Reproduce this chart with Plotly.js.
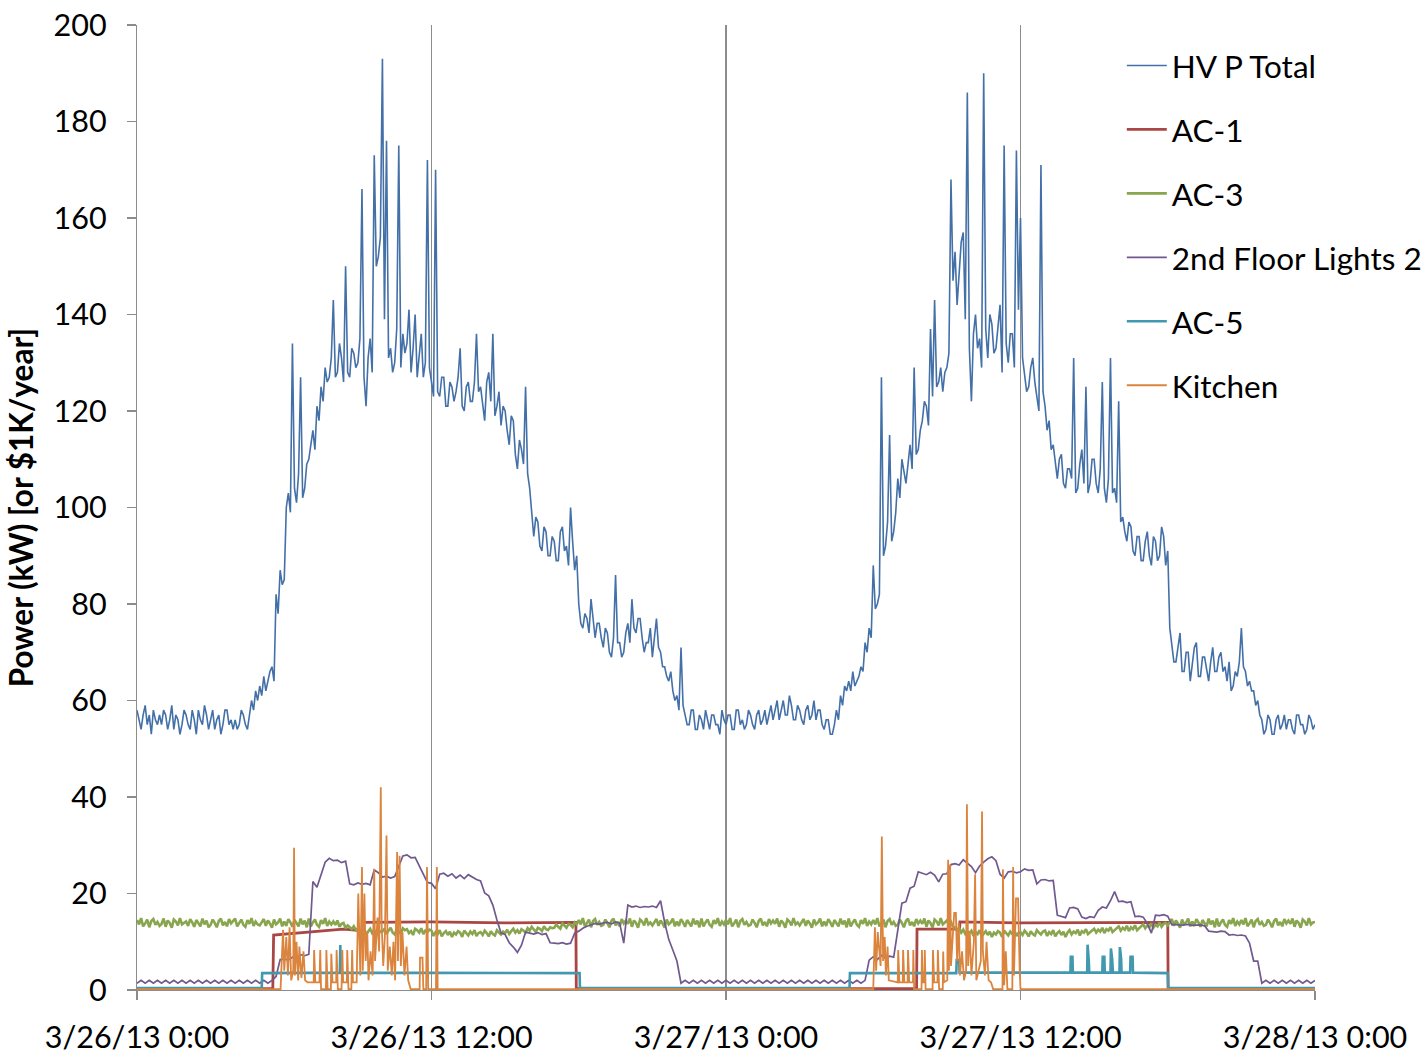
<!DOCTYPE html>
<html>
<head>
<meta charset="utf-8">
<script src="https://cdn.plot.ly/plotly-3.0.1.min.js"></script>
<style>html,body{margin:0;padding:0;background:#fff;}#chart{width:1428px;height:1055px;}</style>
</head>
<body>
<div id="chart"></div>
<script>
// ---------------- DATA ----------------
// 5-minute grid (hours) for HV P Total and AC-3
const fineStepHour = 1/12;
// 10-minute grid (hours) for 2nd Floor Lights 2
const gridStepHour = 1/6;

// HV P Total (kW), 5-minute readings, 3/26 0:00 .. 3/28 0:00 (one row per hour)
const hvTotal = [
 58,56,54,57,59,55,57,53,58,56,55,57,
 55,58,57,54,56,59,54,57,56,53,55,58,
 57,55,54,58,56,53,58,56,55,59,57,54,
 56,58,54,56,57,53,55,58,58,55,56,54,
 56,54,55,58,57,55,54,57,60,58,62,60,
 63,61,65,62,64,66,67,64,82,78,87,84,
 85,100,103,99,134,104,101,107,127,102,104,109,
 110,113,116,112,121,118,125,122,129,126,127,131,
 143,127,128,134,131,126,150,128,127,133,132,129,
 130,135,166,127,121,131,135,128,173,150,152,156,
 193,139,176,131,133,128,130,137,175,129,136,132,
 134,141,128,133,140,127,131,136,127,130,172,129,
 126,123,170,124,123,127,127,121,121,126,125,122,
 124,127,133,121,120,125,126,122,122,126,136,124,
 125,121,118,126,128,122,136,119,121,124,117,121,
 120,116,113,119,118,111,108,114,112,109,125,107,
 104,99,94,98,97,92,91,96,95,90,90,94,
 93,89,89,95,96,91,92,88,100,93,87,90,
 80,76,75,78,77,74,81,77,73,76,76,73,
 71,75,74,70,69,73,86,72,72,69,70,74,
 76,72,81,75,74,77,77,73,70,72,72,75,
 69,73,77,71,70,67,67,65,64,66,62,60,
 61,58,71,59,57,55,55,58,58,54,54,57,
 56,54,58,56,54,57,57,55,55,53,58,56,
 55,57,57,54,54,58,58,55,56,54,55,58,
 57,55,54,57,58,55,56,58,55,57,59,56,
 58,60,56,58,60,57,57,61,59,56,56,59,
 58,56,55,58,59,56,57,60,56,58,58,55,
 54,56,56,53,53,55,58,56,61,59,63,62,
 64,62,66,63,64,65,67,66,72,70,75,73,
 88,79,80,82,127,90,92,97,115,93,95,99,
 106,102,110,107,105,109,113,108,129,111,112,116,
 118,122,121,117,137,123,143,125,126,129,124,128,
 129,132,168,147,153,142,148,155,157,139,186,133,
 122,136,140,133,135,129,190,137,131,140,138,132,
 133,137,142,128,175,134,130,136,136,129,174,141,
 160,131,128,124,125,129,131,126,123,120,171,124,
 121,116,118,112,113,109,106,110,111,105,104,108,
 108,106,131,103,104,109,112,105,125,103,105,110,
 110,105,103,108,126,104,101,106,131,103,104,101,
 122,97,98,95,93,97,96,91,90,94,94,89,
 89,93,95,90,88,94,93,89,90,96,94,88,
 91,75,72,68,68,71,74,66,66,70,70,64,
 67,71,72,65,65,69,69,66,64,68,71,66,
 66,69,70,66,67,64,68,62,63,66,65,68,
 75,67,66,63,64,62,62,59,60,57,56,53,
 54,57,56,53,53,56,57,54,55,57,54,56,
 56,54,53,57,57,55,55,53,54,57,56,54,
 55
];

// AC-3 (kW), 5-minute readings (one row per hour)
const ac3 = [
 14.5,13.6,14.9,13.2,13.8,14.6,13.0,14.3,14.7,13.5,14.1,13.3,
 13.7,14.8,13.1,14.4,13.9,12.9,14.6,14.2,13.4,14.9,13.6,14.0,
 14.2,13.3,14.7,14.0,13.1,14.5,13.8,13.2,14.8,13.6,14.4,13.0,
 13.5,14.6,13.9,13.0,14.3,14.8,13.4,14.1,13.2,14.7,13.8,14.4,
 14.8,13.2,14.0,14.6,13.5,13.1,14.5,13.7,14.9,13.3,14.2,13.6,
 13.4,14.1,14.7,13.3,14.4,13.8,12.9,14.6,13.6,14.0,14.8,13.2,
 14.2,13.3,14.7,14.0,13.1,14.5,13.8,13.2,14.8,13.6,14.4,13.0,
 14.8,13.2,14.0,14.6,13.5,13.1,14.5,13.7,14.9,13.3,14.2,13.6,
 14.2,13.5,14.4,13.1,13.7,13.9,12.8,13.4,13.0,12.6,13.2,12.4,
 12.8,11.7,12.5,12.9,11.5,12.2,12.7,11.8,12.4,11.4,12.6,12.0,
 12.1,12.7,11.6,12.3,12.9,11.9,11.5,12.6,12.2,11.7,12.8,12.4,
 12.6,11.8,12.2,11.4,12.7,12.4,11.9,12.8,11.6,12.3,12.0,12.5,
 12.3,11.2,12.0,11.6,12.4,11.1,11.8,12.2,11.4,12.1,11.0,11.9,
 11.5,12.2,11.9,11.0,12.3,11.7,11.3,12.1,11.6,12.4,11.2,11.8,
 12.0,11.4,12.3,11.8,11.1,12.2,11.6,11.3,12.4,11.9,11.5,12.1,
 11.8,12.5,11.6,12.2,12.7,11.9,12.4,11.7,12.6,12.3,11.9,12.8,
 12.3,13.1,12.5,12.0,12.9,12.7,12.2,13.2,12.6,12.4,13.0,12.8,
 12.9,13.6,13.1,12.7,13.8,13.3,12.9,13.7,13.5,13.0,14.0,13.6,
 14.5,13.6,14.9,13.2,13.8,14.6,13.0,14.3,14.7,13.5,14.1,13.3,
 13.5,14.6,13.9,13.0,14.3,14.8,13.4,14.1,13.2,14.7,13.8,14.4,
 13.7,14.8,13.1,14.4,13.9,12.9,14.6,14.2,13.4,14.9,13.6,14.0,
 13.4,14.1,14.7,13.3,14.4,13.8,12.9,14.6,13.6,14.0,14.8,13.2,
 14.2,13.3,14.7,14.0,13.1,14.5,13.8,13.2,14.8,13.6,14.4,13.0,
 14.8,13.2,14.0,14.6,13.5,13.1,14.5,13.7,14.9,13.3,14.2,13.6,
 14.5,13.6,14.9,13.2,13.8,14.6,13.0,14.3,14.7,13.5,14.1,13.3,
 13.5,14.6,13.9,13.0,14.3,14.8,13.4,14.1,13.2,14.7,13.8,14.4,
 13.7,14.8,13.1,14.4,13.9,12.9,14.6,14.2,13.4,14.9,13.6,14.0,
 13.4,14.1,14.7,13.3,14.4,13.8,12.9,14.6,13.6,14.0,14.8,13.2,
 14.2,13.3,14.7,14.0,13.1,14.5,13.8,13.2,14.8,13.6,14.4,13.0,
 14.8,13.2,14.0,14.6,13.5,13.1,14.5,13.7,14.9,13.3,14.2,13.6,
 14.5,13.6,14.9,13.2,13.8,14.6,13.0,14.3,14.7,13.5,14.1,13.3,
 13.5,14.6,13.9,13.0,14.3,14.8,13.4,14.1,13.2,14.7,13.8,14.4,
 13.7,14.8,13.1,14.4,13.9,12.9,14.6,14.2,13.4,14.9,13.6,14.0,
 14.4,13.5,14.1,13.2,12.9,12.3,12.8,11.9,12.5,11.6,12.2,11.8,
 12.3,11.2,12.0,11.6,12.4,11.1,11.8,12.2,11.4,12.1,11.0,11.9,
 11.5,12.2,11.9,11.0,12.3,11.7,11.3,12.1,11.6,12.4,11.2,11.8,
 12.0,11.4,12.3,11.8,11.1,12.2,11.6,11.3,12.4,11.9,11.5,12.1,
 12.3,11.2,12.0,11.6,12.4,11.1,11.8,12.2,11.4,12.1,11.0,11.9,
 12.4,11.5,12.1,11.8,12.5,11.3,12.2,11.9,12.6,11.6,12.0,12.3,
 12.7,11.9,12.5,12.1,12.9,11.8,12.6,12.3,13.0,12.0,12.4,12.8,
 13.2,12.3,12.9,12.5,13.3,12.2,13.0,12.6,13.4,12.4,12.8,13.1,
 13.6,12.8,13.4,13.0,13.8,12.9,13.5,13.2,14.0,13.1,13.7,13.9,
 13.4,14.1,14.7,13.3,14.4,13.8,12.9,14.6,13.6,14.0,14.8,13.2,
 14.2,13.3,14.7,14.0,13.1,14.5,13.8,13.2,14.8,13.6,14.4,13.0,
 14.8,13.2,14.0,14.6,13.5,13.1,14.5,13.7,14.9,13.3,14.2,13.6,
 14.5,13.6,14.9,13.2,13.8,14.6,13.0,14.3,14.7,13.5,14.1,13.3,
 13.5,14.6,13.9,13.0,14.3,14.8,13.4,14.1,13.2,14.7,13.8,14.4,
 13.7,14.8,13.1,14.4,13.9,12.9,14.6,14.2,13.4,14.9,13.6,14.0,
 14.1
];

// 2nd Floor Lights 2 (kW), 10-minute readings
const lights2 = [
 1.4,2.0,1.4,2.0,1.4,2.0, 1.4,2.0,1.4,2.0,1.4,2.0, 1.4,2.0,1.4,2.0,1.4,2.0, 1.4,2.0,1.4,2.0,1.4,2.0,
 1.4,2.0,1.4,2.0,1.4,2.0, 1.4,2.0,1.4,2.0,2.8,6.3, 6.4,6.2,6.8,6.5,7.3,7.1, 7.4,22.5,21.3,23.8,26.5,27.3,
 26.8,26.9,26.4,26.7,22.0,21.8, 22.2,21.9,22.1,21.8,24.9,24.3, 23.4,23.6,23.2,23.5,25.6,27.8, 28.0,27.4,27.5,25.6,24.0,22.3,
 22.1,21.0,24.0,24.2,23.6,24.1, 23.2,23.8,23.1,23.9,23.4,22.9, 22.6,20.1,19.5,17.6,14.5,11.8, 11.5,9.8,8.9,7.8,9.3,12.0,
 11.8,11.6,11.9,11.5,11.7,9.8, 9.7,9.6,9.8,9.5,9.7,11.8, 12.2,12.8,13.2,13.5,13.8,13.6, 13.9,14.0,13.7,14.1,13.9,9.7,
 17.6,17.2,17.4,17.1,17.3,17.2, 17.4,17.1,18.5,14.0,10.5,8.3, 6.0,1.4,2.0,1.4,2.0,1.4, 2.0,1.4,2.0,1.4,2.0,1.4,
 2.0,1.4,2.0,1.4,2.0,1.4, 2.0,1.4,2.0,1.4,2.0,1.4, 2.0,1.4,2.0,1.4,2.0,1.4, 2.0,1.4,2.0,1.4,2.0,1.4,
 2.0,1.4,2.0,1.4,2.0,1.4, 2.0,1.4,2.0,1.4,2.0,6.2, 6.9,6.3,7.2,6.6,7.0,6.8, 12.4,18.0,18.3,21.1,21.5,24.5,
 24.2,23.9,24.4,23.8,22.4,24.0, 24.1,26.0,26.2,25.9,27.0,26.3, 25.6,24.3,25.7,26.5,27.2,27.6, 26.8,24.0,23.2,24.5,24.6,24.3,
 24.5,25.1,24.8,24.9,22.0,22.8, 22.9,22.6,22.7,15.5,15.2,15.0, 17.0,17.1,16.8,15.1,14.8,15.2, 15.0,16.5,17.2,17.0,18.5,20.4,
 18.3,18.4,18.1,18.3,15.2,15.3, 15.1,13.8,11.8,15.5,15.4,15.6, 15.3,13.5,13.6,13.4,13.5,13.6, 13.4,13.5,13.5,13.3,12.2,12.1,
 12.0,12.2,12.1,11.4,11.5,11.3, 11.4,11.2,9.7,6.0,6.0,1.4, 2.0,1.4,2.0,1.4,2.0,1.4, 2.0,1.4,2.0,1.4,2.0,1.4,
 2.0
];

// AC-1 (kW): hour offsets and readings
const ac1Hours = [0, 5.54, 5.56, 6.5, 7.5, 8.4, 9.21, 9.23, 12, 15, 17.88, 17.90, 31.77, 31.79, 33.52, 33.54, 36, 39, 42.0, 42.02, 48];
const ac1KW    = [0.3, 0.3, 11.4, 11.8, 12.2, 12.6, 12.3, 14.0, 14.1, 13.9, 14.0, 0.3, 0.3, 12.6, 12.6, 14.1, 13.9, 14.0, 14.0, 0.3, 0.3];

// AC-5 (kW): hour offsets and readings
const ac5Hours = [0, 5.08, 5.10, 8.27, 8.29, 8.31, 18.03, 18.05, 29.03, 29.05, 33.38, 33.40, 33.50, 33.52,
  38.03, 38.05, 38.12, 38.14, 38.72, 38.74, 38.78, 38.80, 39.33, 39.35, 39.42, 39.44,
  39.66, 39.68, 39.74, 39.76, 40.03, 40.05, 40.10, 40.12, 40.47, 40.49, 40.56, 40.58, 42.0, 42.02, 48];
const ac5KW    = [0.4, 0.4, 3.5, 3.6, 9.3, 3.6, 3.5, 0.4, 0.4, 3.5, 3.5, 6.2, 6.2, 3.6,
  3.6, 6.9, 6.9, 3.6, 3.6, 9.4, 6.0, 3.6, 3.6, 6.9, 6.9, 3.6,
  3.6, 8.6, 6.5, 3.6, 3.6, 8.9, 6.5, 3.6, 3.6, 6.9, 6.9, 3.6, 3.5, 0.4, 0.4];

// Kitchen (kW): hour offsets and readings
const kitchenHours = [0, 5.85, 5.95, 6.00, 6.08, 6.15, 6.22, 6.28, 6.36, 6.40, 6.44, 6.50, 6.56, 6.62, 6.70, 6.78, 6.85, 6.95,
  7.20, 7.22, 7.26, 7.44, 7.46, 7.50, 7.70, 7.72, 7.76, 7.90, 7.92, 7.96, 8.12, 8.14, 8.18, 8.34, 8.36, 8.40,
  8.55, 8.57, 8.61, 8.74, 8.76, 8.80, 8.95, 8.97, 9.02, 9.10, 9.16, 9.20, 9.26, 9.32, 9.38, 9.44, 9.52, 9.60, 9.66, 9.70,
  9.80, 9.86, 9.93, 9.97, 10.03, 10.10, 10.17, 10.22, 10.30, 10.38, 10.45, 10.52, 10.60, 10.64, 10.70, 10.75, 10.82, 10.90,
  10.98, 11.05, 11.15, 11.52, 11.54, 11.64, 11.66, 11.79, 11.82, 11.86, 12.18, 12.21, 12.25,
  30.00, 30.06, 30.12, 30.18, 30.30, 30.35, 30.40, 30.46, 30.52, 30.58, 30.64, 30.95, 31.00, 31.02, 31.06, 31.20, 31.22, 31.26,
  31.40, 31.42, 31.46, 31.61, 31.63, 31.67, 31.96, 31.98, 32.02, 32.08, 32.10, 32.14, 32.42, 32.44, 32.48, 32.62, 32.64, 32.68,
  32.83, 32.85, 32.89, 33.02, 33.05, 33.09, 33.13, 33.17, 33.30, 33.36, 33.42, 33.48, 33.54, 33.62, 33.70, 33.78, 33.82, 33.86,
  33.94, 34.00, 34.10, 34.15, 34.20, 34.38, 34.43, 34.47, 34.55, 34.62, 34.70, 34.80, 34.88, 35.26, 35.29, 35.33, 35.40, 35.46,
  35.66, 35.70, 35.74, 35.82, 35.90, 35.96, 36.00, 48];
const kitchenKW = [0.2, 0.2, 12.5, 4, 11, 3, 13, 2, 4, 29.5, 3, 10, 2, 9, 2.5, 8, 2, 1.6,
  1.6, 8.3, 1.6, 1.6, 8.3, 0.2, 0.2, 8.3, 0.2, 0.2, 7.5, 1.6, 1.6, 8.3, 0.2, 0.2, 8.3, 1.6,
  1.6, 8.3, 0.2, 0.2, 8.3, 1.6, 1.6, 8.5, 20, 3, 25.5, 4, 20, 6, 12, 2, 8, 3, 25, 6,
  15, 8, 42, 14, 5, 11, 32, 4, 9, 3, 10, 2, 28.6, 6, 27.8, 5, 12, 3,
  9, 2, 0.2, 0.2, 6.7, 6.7, 0.2, 0.2, 25.5, 0.2, 0.2, 25.5, 0.2,
  0.2, 13, 4, 12, 5, 31.8, 6, 11, 3, 9, 2, 1.6, 1.6, 8.3, 1.6, 1.6, 8.3, 1.6,
  1.6, 8.3, 1.6, 1.6, 8.3, 0.2, 0.2, 8.3, 1.6, 1.6, 8.3, 0.2, 0.2, 8.3, 1.6, 1.6, 8.3, 0.2,
  0.2, 8, 1.6, 2, 27, 4, 26, 5, 16, 16, 6, 14, 3, 8, 2, 4, 38.5, 5,
  12, 3, 10, 24, 2, 6, 37, 8, 3, 10, 2, 1.6, 0.2, 0.2, 25, 1, 8, 0.2,
  0.2, 25.5, 3, 19, 19, 4, 0.2, 0.2];

const seriesNames = ["HV P Total", "AC-1", "AC-3", "2nd Floor Lights 2", "AC-5", "Kitchen"];
const seriesColors = ["#4470A8", "#AA4643", "#89A54E", "#71588F", "#4198AF", "#DB843D"];
const xTickVals = ["2013-03-26 00:00", "2013-03-26 12:00", "2013-03-27 00:00", "2013-03-27 12:00", "2013-03-28 00:00"];
const xTickText = ["3/26/13 0:00", "3/26/13 12:00", "3/27/13 0:00", "3/27/13 12:00", "3/28/13 0:00"];

// ---------------- HELPERS ----------------
function pad(n){ return (n < 10 ? "0" : "") + n; }
function hourToDate(h){
  const totalMin = Math.round(h * 60);
  const day = 26 + Math.floor(totalMin / 1440);
  const rem = totalMin % 1440;
  return "2013-03-" + pad(day) + " " + pad(Math.floor(rem / 60)) + ":" + pad(rem % 60);
}
function gridTimes(n, step){
  const out = [];
  for (let i = 0; i < n; i++) out.push(hourToDate(i * step));
  return out;
}

const fineX = gridTimes(hvTotal.length, fineStepHour);
const ac3X = gridTimes(ac3.length, fineStepHour);
const gridX = gridTimes(lights2.length, gridStepHour);
const font = "Lato, 'Open Sans', sans-serif";

function mk(name, x, y, color, width, i){
  return {type: "scatter", mode: "lines", name: name, x: x, y: y,
          line: {color: color, width: width}, legendgroup: "g" + i, hoverinfo: "skip"};
}

const traces = [
  mk(seriesNames[0], fineX, hvTotal, seriesColors[0], 1.6, 0),
  mk(seriesNames[1], ac1Hours.map(hourToDate), ac1KW, seriesColors[1], 2.8, 1),
  mk(seriesNames[2], ac3X, ac3, seriesColors[2], 2.6, 2),
  mk(seriesNames[3], gridX, lights2, seriesColors[3], 1.7, 3),
  mk(seriesNames[4], ac5Hours.map(hourToDate), ac5KW, seriesColors[4], 2.6, 4),
  mk(seriesNames[5], kitchenHours.map(hourToDate), kitchenKW, seriesColors[5], 1.8, 5)
];

const layout = {
  width: 1428, height: 1055,
  paper_bgcolor: "#ffffff", plot_bgcolor: "#ffffff",
  margin: {l: 137, r: 113, t: 25, b: 65, pad: 0, autoexpand: false},
  font: {family: font, size: 30, color: "#000"},
  showlegend: true,
  legend: {x: 0.836, y: 0.986, xanchor: "left", yanchor: "top", bgcolor: "rgba(0,0,0,0)",
           font: {family: font, size: 31.5, color: "#000"}, traceorder: "grouped", tracegroupgap: 20,
           itemwidth: 40},
  xaxis: {
    type: "date", range: ["2013-03-26 00:00", "2013-03-28 00:00"],
    tickvals: xTickVals, ticktext: xTickText,
    showgrid: true, gridcolor: "#8c8c8c", gridwidth: 1.3,
    showline: true, linecolor: "#8c8c8c", linewidth: 1.3,
    ticks: "outside", ticklen: 9, tickcolor: "#8c8c8c", tickwidth: 1.3,
    ticklabelstandoff: 11,
    tickfont: {family: font, size: 30.5, color: "#000"}, zeroline: false
  },
  yaxis: {
    range: [0, 200], tickvals: [0,20,40,60,80,100,120,140,160,180,200],
    showgrid: false, zeroline: false,
    showline: true, linecolor: "#8c8c8c", linewidth: 1.3,
    ticks: "outside", ticklen: 9, tickcolor: "#8c8c8c", tickwidth: 1.3,
    ticklabelstandoff: 14,
    tickfont: {family: font, size: 30.5, color: "#000"},
    title: {text: "<b>Power (kW) [or $1K/year]</b>", font: {family: font, size: 31.5, color: "#000"}, standoff: 10}
  }
};

Plotly.newPlot("chart", traces, layout, {staticPlot: true, displayModeBar: false});
</script>
</body>
</html>
